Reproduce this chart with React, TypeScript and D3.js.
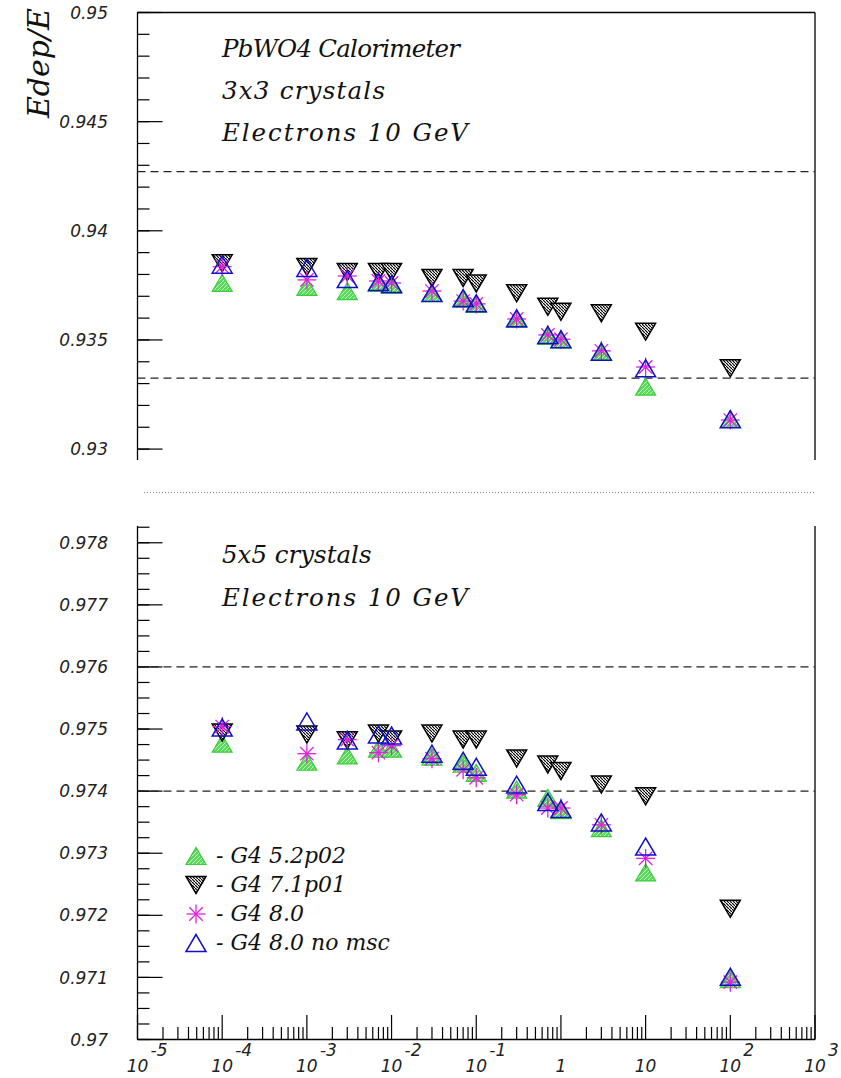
import React from 'react';
import * as d3 from 'd3';

// production cut values (x axis, log scale)
const cuts = [1e-4, 1e-3, 3e-3, 7e-3, 1e-2, 3e-2, 7e-2, 0.1, 0.3, 0.7, 1, 3, 10, 100];

// 3x3 crystals
const top52 = [0.93761, 0.93743, 0.93724, 0.93761, 0.93752, 0.93715, 0.93688, 0.93665, 0.93596, 0.93518, 0.93503, 0.93446, 0.93286, 0.93138];
const top71 = [0.93851, 0.93834, 0.93811, 0.93811, 0.93811, 0.93784, 0.93784, 0.93759, 0.93714, 0.93652, 0.93629, 0.93622, 0.93538, 0.9337];
const top80 = [0.93836, 0.93775, 0.93793, 0.9377, 0.93761, 0.93724, 0.93678, 0.93665, 0.93596, 0.93523, 0.93503, 0.9345, 0.93376, 0.93133];
const top80n = [0.93845, 0.9383, 0.93779, 0.93765, 0.93756, 0.93715, 0.93692, 0.93668, 0.93599, 0.93523, 0.93503, 0.93446, 0.9337, 0.93137];

// 5x5 crystals
const bot52 = [0.974765, 0.974473, 0.974575, 0.974684, 0.974684, 0.974554, 0.974441, 0.974295, 0.974024, 0.97389, 0.973695, 0.973404, 0.97269, 0.97097];
const bot71 = [0.974943, 0.974911, 0.974818, 0.974927, 0.97483, 0.974927, 0.97483, 0.97483, 0.974527, 0.97443, 0.974323, 0.974105, 0.973917, 0.972107];
const bot80 = [0.97504, 0.974603, 0.97483, 0.974619, 0.974733, 0.974522, 0.974343, 0.974214, 0.973943, 0.973728, 0.973728, 0.973457, 0.972917, 0.970924];
const bot80n = [0.975024, 0.975122, 0.974814, 0.974911, 0.974895, 0.974603, 0.974489, 0.974392, 0.974105, 0.973825, 0.973711, 0.973496, 0.973107, 0.97101];

const seriesKinds = ['g52', 'g71', 'g80', 'g80n'];
const legendLabels = ['- G4 5.2p02', '- G4 7.1p01', '- G4 8.0', '- G4 8.0 no msc'];

// reference bands (dashed lines)
const topBand = [0.94271, 0.93325];
const botBand = [0.976, 0.974];

const topTitle = ['PbWO4 Calorimeter', '3x3 crystals', 'Electrons 10 GeV'];
const botTitle = ['5x5 crystals', 'Electrons 10 GeV'];
// widths the title lines take in the picture
const titleWidth: Record<string, number> = {
    'PbWO4 Calorimeter': 238,
    '3x3 crystals': 163,
    'Electrons 10 GeV': 246,
};

const decades = [-5, -4, -3, -2, -1, 0, 1, 2, 3];

const serif = '"DejaVu Serif", serif';
const sans = '"DejaVu Sans", sans-serif';

const Marker = ({ kind, cx, cy }: { kind: string; cx: number; cy: number }) => {
    const w = 20, h = 17;
    if (kind === 'g52') {
        return <polygon points={`${cx},${cy - h / 2} ${cx - w / 2},${cy + h / 2} ${cx + w / 2},${cy + h / 2}`}
            fill="url(#hatchG)" stroke="#3ccc3c" strokeWidth={1.2} />;
    }
    if (kind === 'g71') {
        return <polygon points={`${cx - w / 2},${cy - h / 2} ${cx + w / 2},${cy - h / 2} ${cx},${cy + h / 2}`}
            fill="url(#hatchK)" stroke="#000" strokeWidth={1.5} />;
    }
    if (kind === 'g80') {
        const r = 9.5, d = 6.7;
        return (
            <g stroke="#e020e0" strokeWidth={1.3}>
                <line x1={cx - r} y1={cy} x2={cx + r} y2={cy} />
                <line x1={cx} y1={cy - r} x2={cx} y2={cy + r} />
                <line x1={cx - d} y1={cy - d} x2={cx + d} y2={cy + d} />
                <line x1={cx - d} y1={cy + d} x2={cx + d} y2={cy - d} />
            </g>
        );
    }
    return <polygon points={`${cx},${cy - h / 2} ${cx - w / 2},${cy + h / 2} ${cx + w / 2},${cy + h / 2}`}
        fill="none" stroke="#1010c8" strokeWidth={1.5} />;
};

const App: React.FC = () => {
    const xL = 137.5, xR = 815;
    const x = d3.scaleLog().domain([1e-5, 1e3]).range([xL, xR]);
    const yTop = d3.scaleLinear().domain([0.9295, 0.95]).range([460, 12.5]);
    const yBot = d3.scaleLinear().domain([0.97, 0.97827]).range([1039.5, 526]);

    const topMajor = d3.range(0, 5).map(i => 0.93 + i * 0.005);
    const topMinor = d3.range(0, 21).map(i => 0.93 + i * 0.001);
    const botMajor = d3.range(0, 9).map(i => 0.97 + i * 0.001);
    const botMinor = d3.range(0, 34).map(i => 0.97 + i * 0.00025);
    const xMinor = decades.slice(0, -1).flatMap(e => d3.range(2, 10).map(k => k * Math.pow(10, e)));

    const topData = [top52, top71, top80, top80n];
    const botData = [bot52, bot71, bot80, bot80n];

    const fmt = (v: number) => String(+v.toFixed(3));

    return (
        <svg width={841} height={1078} style={{ position: 'absolute', left: 0, top: 0, background: '#fff' }}>
            <defs>
                <pattern id="hatchG" width={4} height={4} patternUnits="userSpaceOnUse">
                    <rect width={4} height={4} fill="#5ada5a" />
                    <path d="M0,4 L4,0" stroke="#c8f5c8" strokeWidth={1} />
                </pattern>
                <pattern id="hatchK" width={3} height={3} patternUnits="userSpaceOnUse">
                    <rect width={3} height={3} fill="#fff" />
                    <path d="M0,0 L3,3" stroke="#000" strokeWidth={1.2} />
                </pattern>
            </defs>
            <rect width={841} height={1078} fill="#fff" />

            {/* ---------- top panel ---------- */}
            <g stroke="#000" strokeWidth={1.3} fill="none">
                <line x1={xL} y1={12.5} x2={xL} y2={460} />
                <line x1={xL} y1={12.5} x2={xR} y2={12.5} />
                <line x1={xR} y1={12.5} x2={xR} y2={460} />
            </g>
            {topMinor.map((v, i) => (
                <line key={'tm' + i} x1={xL} x2={xL + 12} y1={yTop(v)} y2={yTop(v)} stroke="#000" strokeWidth={1.2} />
            ))}
            {topMajor.map((v, i) => (
                <g key={'tM' + i}>
                    <line x1={xL} x2={xL + 25} y1={yTop(v)} y2={yTop(v)} stroke="#000" strokeWidth={1.2} />
                    <text x={108} y={yTop(v)} dy="0.36em" textAnchor="end" fontFamily={sans} fontStyle="italic" fontSize={17} fill="#222">{fmt(v)}</text>
                </g>
            ))}
            {topBand.map((v, i) => (
                <line key={'tb' + i} x1={xL} x2={xR} y1={yTop(v)} y2={yTop(v)} stroke="#222" strokeWidth={1.3} strokeDasharray="8,5" />
            ))}
            <text transform="translate(49,8) rotate(-90)" textAnchor="end" fontFamily={serif} fontStyle="italic" fontSize={30} fill="#111">Edep/E</text>
            {topTitle.map((t, i) => (
                <text key={'tt' + i} x={222} y={57 + i * 42} fontFamily={serif} fontStyle="italic" fontSize={24.5} fill="#111"
                    textLength={titleWidth[t]} lengthAdjust="spacing">{t}</text>
            ))}
            {seriesKinds.map((k, s) => (
                <g key={'ts' + k}>
                    {cuts.map((c, i) => <Marker key={i} kind={k} cx={x(c)} cy={yTop(topData[s][i])} />)}
                </g>
            ))}

            {/* separator */}
            <line x1={144} x2={815} y1={492.5} y2={492.5} stroke="#7c7cb4" strokeWidth={1} strokeDasharray="1,2" />

            {/* ---------- bottom panel ---------- */}
            <g stroke="#000" strokeWidth={1.3} fill="none">
                <line x1={xL} y1={526} x2={xL} y2={1039.5} />
                <line x1={xL} y1={1039.5} x2={xR} y2={1039.5} />
                <line x1={xR} y1={526} x2={xR} y2={1039.5} />
            </g>
            {botMinor.map((v, i) => (
                <line key={'bm' + i} x1={xL} x2={xL + 12} y1={yBot(v)} y2={yBot(v)} stroke="#000" strokeWidth={1.2} />
            ))}
            {botMajor.map((v, i) => (
                <g key={'bM' + i}>
                    <line x1={xL} x2={xL + 25} y1={yBot(v)} y2={yBot(v)} stroke="#000" strokeWidth={1.2} />
                    <text x={108} y={yBot(v)} dy="0.36em" textAnchor="end" fontFamily={sans} fontStyle="italic" fontSize={17} fill="#222">{fmt(v)}</text>
                </g>
            ))}
            {botBand.map((v, i) => (
                <line key={'bb' + i} x1={xL} x2={xR} y1={yBot(v)} y2={yBot(v)} stroke="#222" strokeWidth={1.3} strokeDasharray="8,5" />
            ))}
            {xMinor.map((v, i) => (
                <line key={'xm' + i} x1={x(v)} x2={x(v)} y1={1039.5} y2={1027} stroke="#000" strokeWidth={1.2} />
            ))}
            {decades.map(e => (
                <g key={'xd' + e}>
                    <line x1={x(Math.pow(10, e))} x2={x(Math.pow(10, e))} y1={1039.5} y2={1015} stroke="#000" strokeWidth={1.2} />
                    {e === 0 ? (
                        <text x={x(1)} y={1072} textAnchor="middle" fontFamily={sans} fontStyle="italic" fontSize={17} fill="#222">1</text>
                    ) : (
                        <g fontFamily={sans} fontStyle="italic" fontSize={17} fill="#222">
                            <text x={x(Math.pow(10, e))} y={1072} textAnchor="middle">10</text>
                            {e !== 1 && <text x={x(Math.pow(10, e)) + 13} y={1056} textAnchor="start">{e < 0 ? '-' + Math.abs(e) : e}</text>}
                        </g>
                    )}
                </g>
            ))}
            {botTitle.map((t, i) => (
                <text key={'bt' + i} x={222} y={563 + i * 43} fontFamily={serif} fontStyle="italic" fontSize={24.5} fill="#111"
                    textLength={titleWidth[t]} lengthAdjust="spacing">{t}</text>
            ))}
            {seriesKinds.map((k, s) => (
                <g key={'bs' + k}>
                    {cuts.map((c, i) => <Marker key={i} kind={k} cx={x(c)} cy={yBot(botData[s][i])} />)}
                </g>
            ))}

            {/* legend */}
            {seriesKinds.map((k, i) => (
                <g key={'lg' + k}>
                    <Marker kind={k} cx={196} cy={856 + i * 29} />
                    <text x={216} y={863 + i * 29} fontFamily={serif} fontStyle="italic" fontSize={22} fill="#111">{legendLabels[i]}</text>
                </g>
            ))}
        </svg>
    );
};

export default App;
